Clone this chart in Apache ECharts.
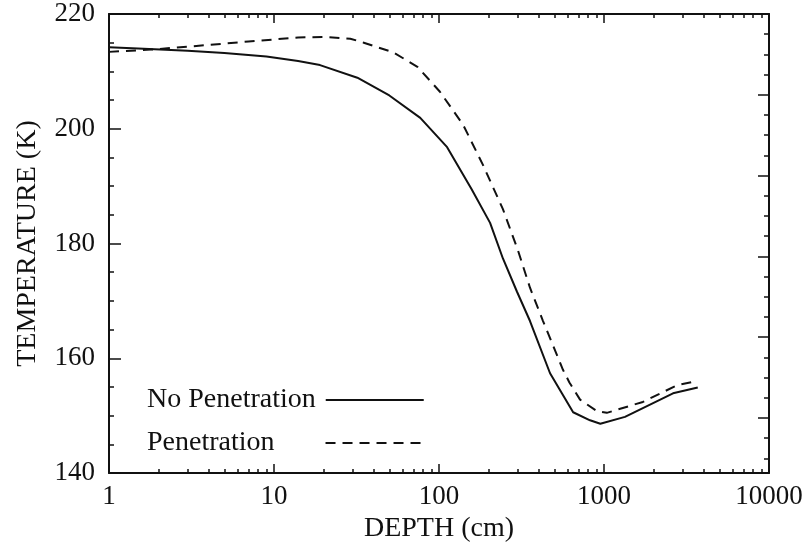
<!DOCTYPE html>
<html>
<head>
<meta charset="utf-8">
<title>Temperature vs depth</title>
<script src="https://cdn.jsdelivr.net/npm/echarts@6.0.0/dist/echarts.min.js"></script>
<style>
    html, body { margin: 0; padding: 0; background: #fff; }
    #temp-chart-container { width: 806px; height: 548px; }
</style>
</head>
<body>
<div id="temp-chart-container"></div>
<script>
    // values
    var noPenDepth = [1, 1.5, 3, 5, 9, 14, 19, 32, 50, 77, 112, 158, 204, 244, 297, 356, 471, 650, 823, 950, 1340, 2620, 3700];
    var noPenTemp  = [214.2, 214.0, 213.6, 213.2, 212.6, 211.8, 211.1, 208.9, 205.8, 201.9, 196.8, 189.4, 183.6, 177.4, 171.6, 166.5, 157.4, 150.6, 149.2, 148.6, 149.8, 153.9, 154.9];

    var penDepth = [1, 1.8, 3, 7, 14, 20, 29, 35, 53, 74, 101, 140, 184, 244, 301, 356, 427, 564, 617, 716, 907, 1040, 1720, 2770, 3700];
    var penTemp  = [213.4, 213.8, 214.3, 215.2, 215.9, 216.0, 215.7, 215.0, 213.3, 210.8, 206.5, 200.7, 193.8, 186.0, 178.8, 172.3, 166.5, 158.0, 155.8, 152.8, 150.8, 150.5, 152.4, 155.3, 156.1];

    var xMajorTicks = [1, 10, 100, 1000, 10000];
    var xMinorTicks = [2, 3, 4, 5, 6, 7, 8, 9, 20, 30, 40, 50, 60, 70, 80, 90,
                       200, 300, 400, 500, 600, 700, 800, 900, 2000, 3000, 4000, 5000, 6000, 7000, 8000, 9000];
    var yTickLabels = [140, 160, 180, 200, 220];

    // right frame axis has its own unlabeled tick spacing
    var rightMajorTicks = [2.73, 6.73, 10.73, 14.73, 18.73];
    var rightMinorTicks = [0.73, 1.73, 2.73, 3.73, 4.73, 5.73, 6.73, 7.73, 8.73, 9.73, 10.73,
                           11.73, 12.73, 13.73, 14.73, 15.73, 16.73, 17.73, 18.73, 19.73, 20.73, 21.73];

    var seriesNames = ['No Penetration', 'Penetration'];

    function pairs(xs, ys) {
        var out = [];
        for (var i = 0; i < xs.length; i++) out.push([xs[i], ys[i]]);
        return out;
    }

    var font = "'Liberation Serif', 'DejaVu Serif', serif";
    var ink = '#111';
    var line = { show: true, lineStyle: { color: ink, width: 2 } };

    function logAxis(pos, ticks, len, withLine, withLabel) {
        return {
            type: 'log', logBase: 10, min: 1, max: 10000,
            position: pos,
            gridIndex: 0,
            axisLine: withLine ? line : { show: false },
            axisTick: { show: true, inside: true, length: len, customValues: ticks,
                        lineStyle: { color: ink, width: 1.5 } },
            axisLabel: withLabel ? {
                show: true, customValues: xMajorTicks, margin: 10,
                color: ink, fontSize: 27, fontFamily: font,
                formatter: function (v) { return String(v); }
            } : { show: false },
            splitLine: { show: false },
            minorTick: { show: false },
            minorSplitLine: { show: false }
        };
    }

    function rightAxis(ticks, len, withLine) {
        return {
            type: 'value', min: 0, max: 22.73,
            position: 'right',
            axisLine: withLine ? line : { show: false },
            axisTick: { show: true, inside: true, length: len, customValues: ticks,
                        lineStyle: { color: ink, width: 1.5 } },
            axisLabel: { show: false },
            splitLine: { show: false }
        };
    }

    // text on the left, line sample on the right; right padding pushes the samples into one column
    function legendRow(name, top, padRight) {
        return {
            show: true,
            orient: 'vertical',
            left: 147,
            top: top,
            padding: 0,
            align: 'right',
            itemWidth: 98,
            itemHeight: 14,
            data: [name],
            itemStyle: { opacity: 0, borderWidth: 0 },
            lineStyle: { opacity: 1 },
            textStyle: { color: ink, fontSize: 28, fontFamily: font, lineHeight: 30,
                         padding: [0, padRight, 0, 0] }
        };
    }

    var myChart = echarts.init(document.getElementById('temp-chart-container'));

    var bottomMajor = logAxis('bottom', xMajorTicks, 9, true, true);
    bottomMajor.name = 'DEPTH (cm)';
    bottomMajor.nameLocation = 'middle';
    bottomMajor.nameGap = 24;
    bottomMajor.nameTextStyle = { color: ink, fontSize: 28, fontFamily: font };

    let option = {
        backgroundColor: '#fff',
        animation: false,
        grid: { left: 109, right: 37, top: 14, bottom: 66, containLabel: false },
        legend: [
            legendRow(seriesNames[0], 385, 5),
            legendRow(seriesNames[1], 428, 46)
        ],
        xAxis: [
            bottomMajor,
            logAxis('bottom', xMinorTicks, 4, false, false),
            logAxis('top', xMajorTicks, 9, true, false),
            logAxis('top', xMinorTicks, 4, false, false)
        ],
        yAxis: [
            {
                type: 'value', min: 140, max: 220, interval: 20,
                position: 'left',
                name: 'TEMPERATURE (K)',
                nameLocation: 'middle',
                nameGap: 67,
                nameTextStyle: { color: ink, fontSize: 28, fontFamily: font },
                axisLine: line,
                axisTick: { show: true, inside: true, length: 12, lineStyle: { color: ink, width: 1.5 } },
                minorTick: { show: true, splitNumber: 4, length: 5, lineStyle: { color: ink, width: 1.5 } },
                axisLabel: {
                    show: true, margin: 14, color: ink, fontSize: 27, fontFamily: font,
                    customValues: yTickLabels
                },
                splitLine: { show: false },
                minorSplitLine: { show: false }
            },
            rightAxis(rightMajorTicks, 11, true),
            rightAxis(rightMinorTicks, 5, false)
        ],
        series: [
            {
                name: seriesNames[0],
                type: 'line',
                xAxisIndex: 0,
                yAxisIndex: 0,
                symbol: 'none',
                smooth: false,
                lineStyle: { color: ink, width: 2, type: 'solid' },
                itemStyle: { color: ink },
                data: pairs(noPenDepth, noPenTemp)
            },
            {
                name: seriesNames[1],
                type: 'line',
                xAxisIndex: 0,
                yAxisIndex: 0,
                symbol: 'none',
                smooth: false,
                lineStyle: { color: ink, width: 2, type: [10, 7] },
                itemStyle: { color: ink },
                data: pairs(penDepth, penTemp)
            }
        ]
    };

    // 绘制图表
    myChart.setOption(option);
</script>
</body>
</html>
